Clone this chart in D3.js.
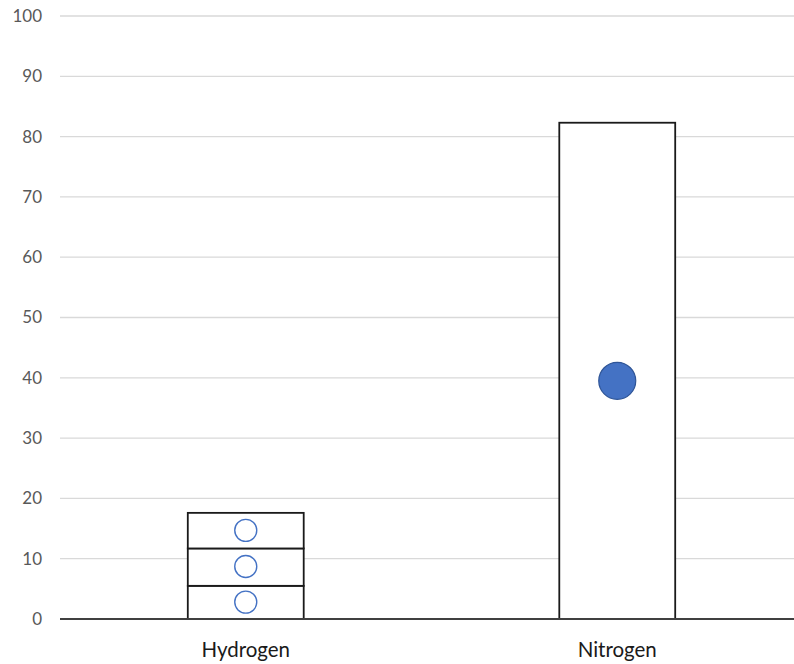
<!DOCTYPE html>
<html><head><meta charset="utf-8">
<script src="https://cdn.jsdelivr.net/npm/d3@7"></script>
<style>body{margin:0;background:#fff}svg{display:block}</style>
</head><body>
<svg id="c" width="794" height="664"></svg>
<script>
const categories = ["Hydrogen", "Nitrogen"];
const hydrogenSegments = [5.5, 6.2, 5.9];   // stacked segment heights
const nitrogenValue = [82.3];
const hydrogenMarkers = [2.8, 8.7, 14.7];
const nitrogenMarkers = [39.5];
const yTicks = [0,10,20,30,40,50,60,70,80,90,100];

const svg = d3.select("#c");
const y = d3.scaleLinear().domain([0,100]).range([619,16]);
const x = d3.scaleBand().domain(categories).range([60,803]).paddingInner(0.688).paddingOuter(0.344);

// gridlines
svg.append("g").selectAll("line").data(yTicks.filter(d=>d>0)).join("line")
  .attr("x1",60).attr("x2",794).attr("y1",d=>y(d)).attr("y2",d=>y(d))
  .attr("stroke","#d9d9d9").attr("stroke-width",1.3);

// y labels
svg.append("g").selectAll("text").data(yTicks).join("text")
  .attr("x",42).attr("y",d=>y(d)).attr("dy","0.35em").attr("text-anchor","end")
  .attr("font-family","Lato, 'Open Sans', sans-serif").attr("font-size",17).attr("fill","#595959")
  .text(d=>d);

// hydrogen stacked
let cum = 0;
const hSegs = hydrogenSegments.map(v=>{const s={y0:cum,y1:cum+v}; cum+=v; return s;});
svg.append("g").selectAll("rect").data(hSegs).join("rect")
  .attr("x",x("Hydrogen")).attr("width",x.bandwidth())
  .attr("y",d=>y(d.y1)).attr("height",d=>y(d.y0)-y(d.y1))
  .attr("fill","#fff").attr("stroke","#1a1a1a").attr("stroke-width",1.8);

// nitrogen bar
svg.append("g").selectAll("rect").data(nitrogenValue).join("rect")
  .attr("x",x("Nitrogen")).attr("width",x.bandwidth())
  .attr("y",d=>y(d)).attr("height",d=>y(0)-y(d))
  .attr("fill","#fff").attr("stroke","#1a1a1a").attr("stroke-width",1.8);

// axis line
svg.append("line").attr("x1",60).attr("x2",794).attr("y1",y(0)).attr("y2",y(0))
  .attr("stroke","#404040").attr("stroke-width",2);

// markers
svg.append("g").selectAll("circle").data(hydrogenMarkers).join("circle")
  .attr("cx",x("Hydrogen")+x.bandwidth()/2).attr("cy",d=>y(d)).attr("r",11)
  .attr("fill","#fff").attr("stroke","#4472c4").attr("stroke-width",1.4);
svg.append("g").selectAll("circle").data(nitrogenMarkers).join("circle")
  .attr("cx",x("Nitrogen")+x.bandwidth()/2).attr("cy",d=>y(d)).attr("r",18.5)
  .attr("fill","#4472c4").attr("stroke","#2f5597").attr("stroke-width",1.2);

// category labels
svg.append("g").selectAll("text").data(categories).join("text")
  .attr("x",d=>x(d)+x.bandwidth()/2).attr("y",657).attr("text-anchor","middle")
  .attr("font-family","Lato, 'Open Sans', sans-serif").attr("font-size",20.5).attr("fill","#1a1a1a")
  .text(d=>d);
</script>
</body></html>
